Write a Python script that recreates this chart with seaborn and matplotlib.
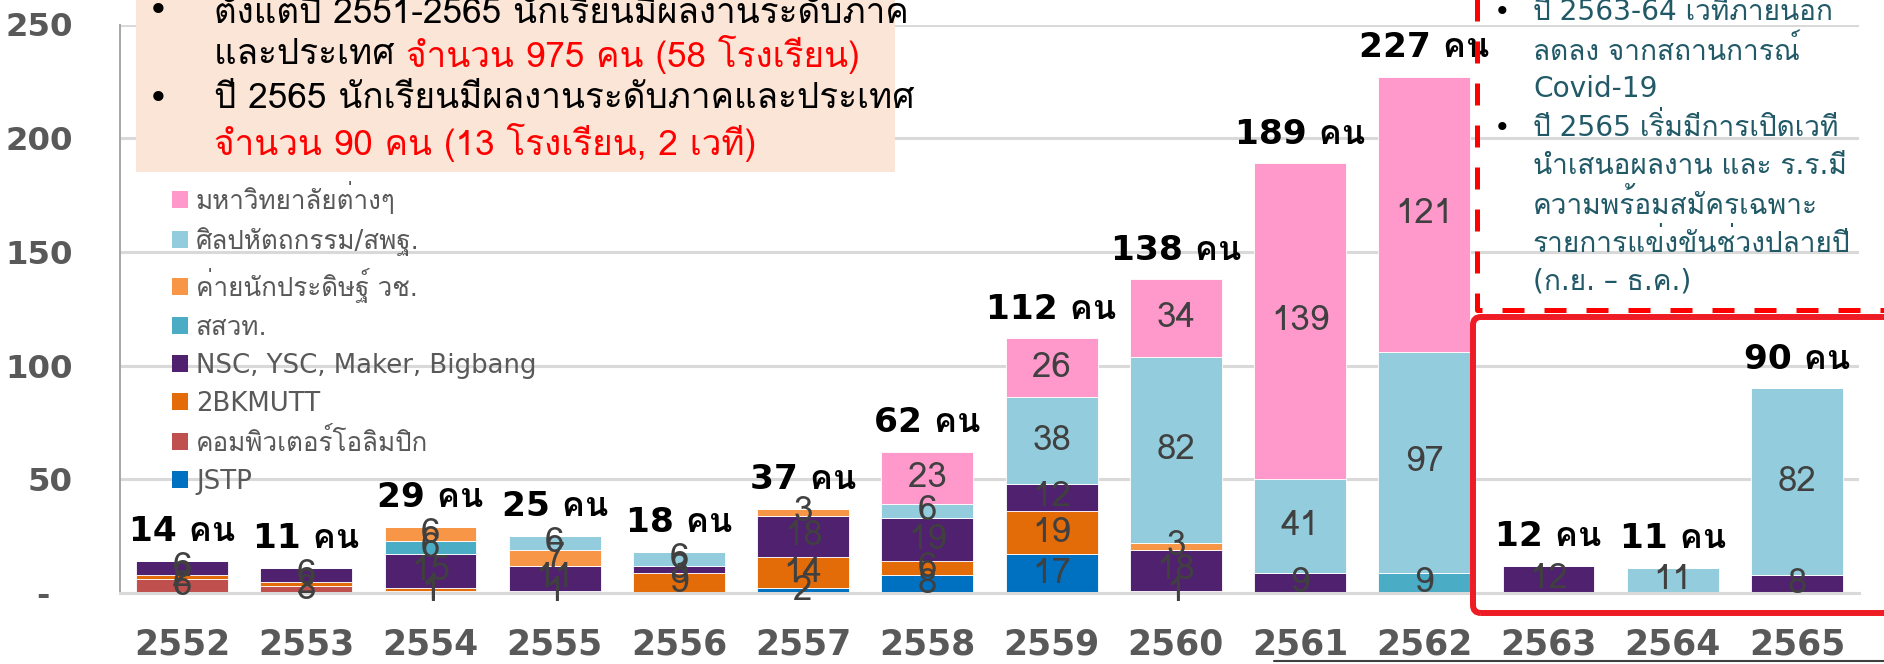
import matplotlib
matplotlib.use("Agg")
import matplotlib.pyplot as plt
from matplotlib.patches import Rectangle, FancyBboxPatch, Patch
from matplotlib.lines import Line2D
import numpy as np
import pandas as pd
import seaborn as sns

# ---- data ----
years = ["2552", "2553", "2554", "2555", "2556", "2557", "2558",
         "2559", "2560", "2561", "2562", "2563", "2564", "2565"]

jstp = [0, 0, 0, 1, 0, 2, 8, 17, 1, 0, 0, 0, 0, 0]
comp_olympic = [6, 3, 1, 0, 0, 0, 0, 0, 0, 0, 0, 0, 0, 0]
bkmutt = [2, 2, 1, 0, 9, 14, 6, 19, 0, 0, 0, 0, 0, 0]
nsc = [6, 6, 15, 11, 3, 18, 19, 12, 18, 9, 0, 12, 0, 8]
ipst = [0, 0, 6, 0, 0, 0, 0, 0, 0, 0, 9, 0, 0, 0]
nrct_camp = [0, 0, 6, 7, 0, 3, 0, 0, 3, 0, 0, 0, 0, 0]
arts_crafts = [0, 0, 0, 6, 6, 0, 6, 38, 82, 41, 97, 0, 11, 82]
universities = [0, 0, 0, 0, 0, 0, 23, 26, 34, 139, 121, 0, 0, 0]

series_names = ["JSTP", "คอมพิวเตอร์โอลิมปิก", "2BKMUTT",
                "NSC, YSC, Maker, Bigbang", "สสวท.", "ค่ายนักประดิษฐ์ วช.",
                "ศิลปหัตถกรรม/สพฐ.", "มหาวิทยาลัยต่างๆ"]
series_values = [jstp, comp_olympic, bkmutt, nsc, ipst, nrct_camp,
                 arts_crafts, universities]
series_colors = ["#0070C0", "#C0504D", "#E36C09", "#50216E", "#4BACC6",
                 "#F79646", "#93CDDD", "#FF99CC"]

y_ticks = [0, 50, 100, 150, 200, 250]
y_tick_labels = ["-  ", "50", "100", "150", "200", "250"]

box_lines = [
    [("ตั้งแต่ปี 2551-2565 นักเรียนมีผลงานระดับภาค", "black")],
    [("และประเทศ ", "black"), ("จำนวน 975 คน (58 โรงเรียน)", "red")],
    [("ปี 2565 นักเรียนมีผลงานระดับภาคและประเทศ", "black")],
    [("จำนวน 90 คน (13 โรงเรียน, 2 เวที)", "red")],
]
box_bullets = [True, False, True, False]

note_lines = ["ปี 2563-64 เวทีภายนอก", "ลดลง จากสถานการณ์", "Covid-19",
              "ปี 2565 เริ่มมีการเปิดเวที", "นำเสนอผลงาน และ ร.ร.มี",
              "ความพร้อมสมัครเฉพาะ", "รายการแข่งขันช่วงปลายปี", "(ก.ย. – ธ.ค.)"]
note_bullets = [True, False, False, True, False, False, False, False]

sns.set_theme(style="white")
# Latin from DejaVu, Thai falls through to Loma (a Tahoma-like Thai face)
plt.rcParams["font.family"] = ["DejaVu Sans", "Loma"]
LOMA_FIRST = ["Loma", "DejaVu Sans"]

W, H = 1884, 664
fig = plt.figure(figsize=(W / 100, H / 100), dpi=100)
renderer = fig.canvas.get_renderer()


def fx(x):
    return x / W


def fy(y):
    return 1 - y / H


def fitted_size(sample, target_px, base=20, **kw):
    # font size that makes `sample` about target_px wide
    t = fig.text(0, 0, sample, fontsize=base, **kw)
    w = t.get_window_extent(renderer).width
    t.remove()
    return base * target_px / w


seg_size = fitted_size("139", 58, family=LOMA_FIRST)
total_size = fitted_size("14 คน", 106, fontweight="bold")
xtick_size = fitted_size("2552", 97, fontweight="bold")
ytick_size = fitted_size("250", 68, fontweight="bold")
legend_size = fitted_size("NSC, YSC, Maker, Bigbang", 340)
box_size = fitted_size(box_lines[2][0][0], 700, family=LOMA_FIRST)
note_size = fitted_size("รายการแข่งขันช่วงปลายปี", 317)

ax = fig.add_axes([fx(120), fy(593), (1859 - 120) / W, (593 - 24.5) / H])

df = pd.DataFrame({"year": years})
bottom = np.zeros(len(years))
for name, vals, col in zip(series_names, series_values, series_colors):
    df["value"] = vals
    sns.barplot(data=df, x="year", y="value", order=years, color=col,
                saturation=1, width=0.74, errorbar=None, bottom=bottom,
                edgecolor="white", linewidth=0.6, ax=ax, zorder=2)
    for i, v in enumerate(vals):
        if v > 0:
            ax.text(i, bottom[i] + v / 2, str(v), ha="center", va="center",
                    fontsize=seg_size, family=LOMA_FIRST, color="#404040",
                    zorder=4)
    bottom = bottom + np.array(vals)

totals = bottom
for i, t in enumerate(totals):
    ax.annotate(f"{int(t)} คน", (i, t), xytext=(0, 21), textcoords="offset points",
                ha="center", va="center", fontsize=total_size, fontweight="bold",
                color="black", zorder=5)

ax.set_ylim(0, 250)
ax.set_xlim(-0.5, len(years) - 0.5)
ax.set_yticks(y_ticks)
ax.set_yticklabels(y_tick_labels)
ax.set_xlabel("")
ax.set_ylabel("")
ax.set_axisbelow(True)
ax.yaxis.grid(True, color="#D9D9D9", linewidth=2.2)
ax.xaxis.grid(False)
for s in ["top", "right"]:
    ax.spines[s].set_visible(False)
ax.spines["left"].set_color("#A6A6A6")
ax.spines["left"].set_linewidth(1.4)
ax.spines["bottom"].set_color("#D9D9D9")
ax.spines["bottom"].set_linewidth(2.2)
ax.tick_params(axis="y", which="major", direction="out", length=8, width=1.4,
               color="#A6A6A6", pad=26, labelsize=ytick_size, labelcolor="#595959")
ax.tick_params(axis="x", which="major", length=0, pad=25, labelsize=xtick_size,
               labelcolor="#595959")
ax.set_xticks(np.arange(-0.5, len(years)), minor=True)
ax.tick_params(axis="x", which="minor", direction="out", length=9, width=1.5,
               color="#D9D9D9")
for lab in ax.get_xticklabels() + ax.get_yticklabels():
    lab.set_fontweight("bold")

# legend (top entry first)
handles = [Patch(facecolor=c, edgecolor="none") for c in series_colors[::-1]]
fig.legend(handles, series_names[::-1], loc="upper left",
           bbox_to_anchor=(fx(172), fy(182)), frameon=False, fontsize=legend_size,
           labelcolor="#595959", handlelength=0.62, handleheight=0.62,
           handletextpad=0.3, labelspacing=0.46, borderpad=0, borderaxespad=0)

# peach summary box
fig.add_artist(Rectangle((fx(136), fy(172)), fx(895) - fx(136), fy(-10) - fy(172),
                         transform=fig.transFigure, facecolor="#FBE5D6",
                         edgecolor="none", zorder=6))
for k, parts in enumerate(box_lines):
    yc = 11 + 44 * k
    if box_bullets[k]:
        fig.text(fx(158), fy(yc), "•", ha="center", va="center",
                 fontsize=box_size, color="black", zorder=7)
    x0 = fx(214)
    for txt, col in parts:
        t = fig.text(x0, fy(yc), txt, ha="left", va="center", fontsize=box_size,
                     family=LOMA_FIRST, color=col, zorder=7)
        x0 = t.get_window_extent(renderer).x1 / W

# right note text
for k, line in enumerate(note_lines):
    yc = 12 + 38.5 * k
    if note_bullets[k]:
        fig.text(fx(1502), fy(yc), "•", ha="center", va="center",
                 fontsize=note_size, color="black", zorder=7)
    fig.text(fx(1533), fy(yc), line, ha="left", va="center", fontsize=note_size,
             color="#215967", zorder=7)

# red dashed frame (top/right run off the page)
fig.add_artist(Line2D([fx(1477), fx(1477), fx(1900)], [fy(-10), fy(310), fy(310)],
                      transform=fig.transFigure, color="#FF0000", linewidth=3.6,
                      linestyle=(0, (4.4, 4.0)), zorder=7))
# red solid rounded frame
fig.add_artist(FancyBboxPatch((14.73, (H - 613) / 100), 4.5, 2.96,
                              boxstyle="round,pad=0,rounding_size=0.08",
                              transform=fig.dpi_scale_trans, facecolor="none",
                              edgecolor="#EE1C25", linewidth=4.3, zorder=7))
# thin dark line at the bottom edge
fig.add_artist(Line2D([fx(1274), fx(1884)], [fy(661), fy(661)],
                      transform=fig.transFigure, color="#404040", linewidth=1.5,
                      zorder=7))

fig.savefig("out.png", dpi=100)
